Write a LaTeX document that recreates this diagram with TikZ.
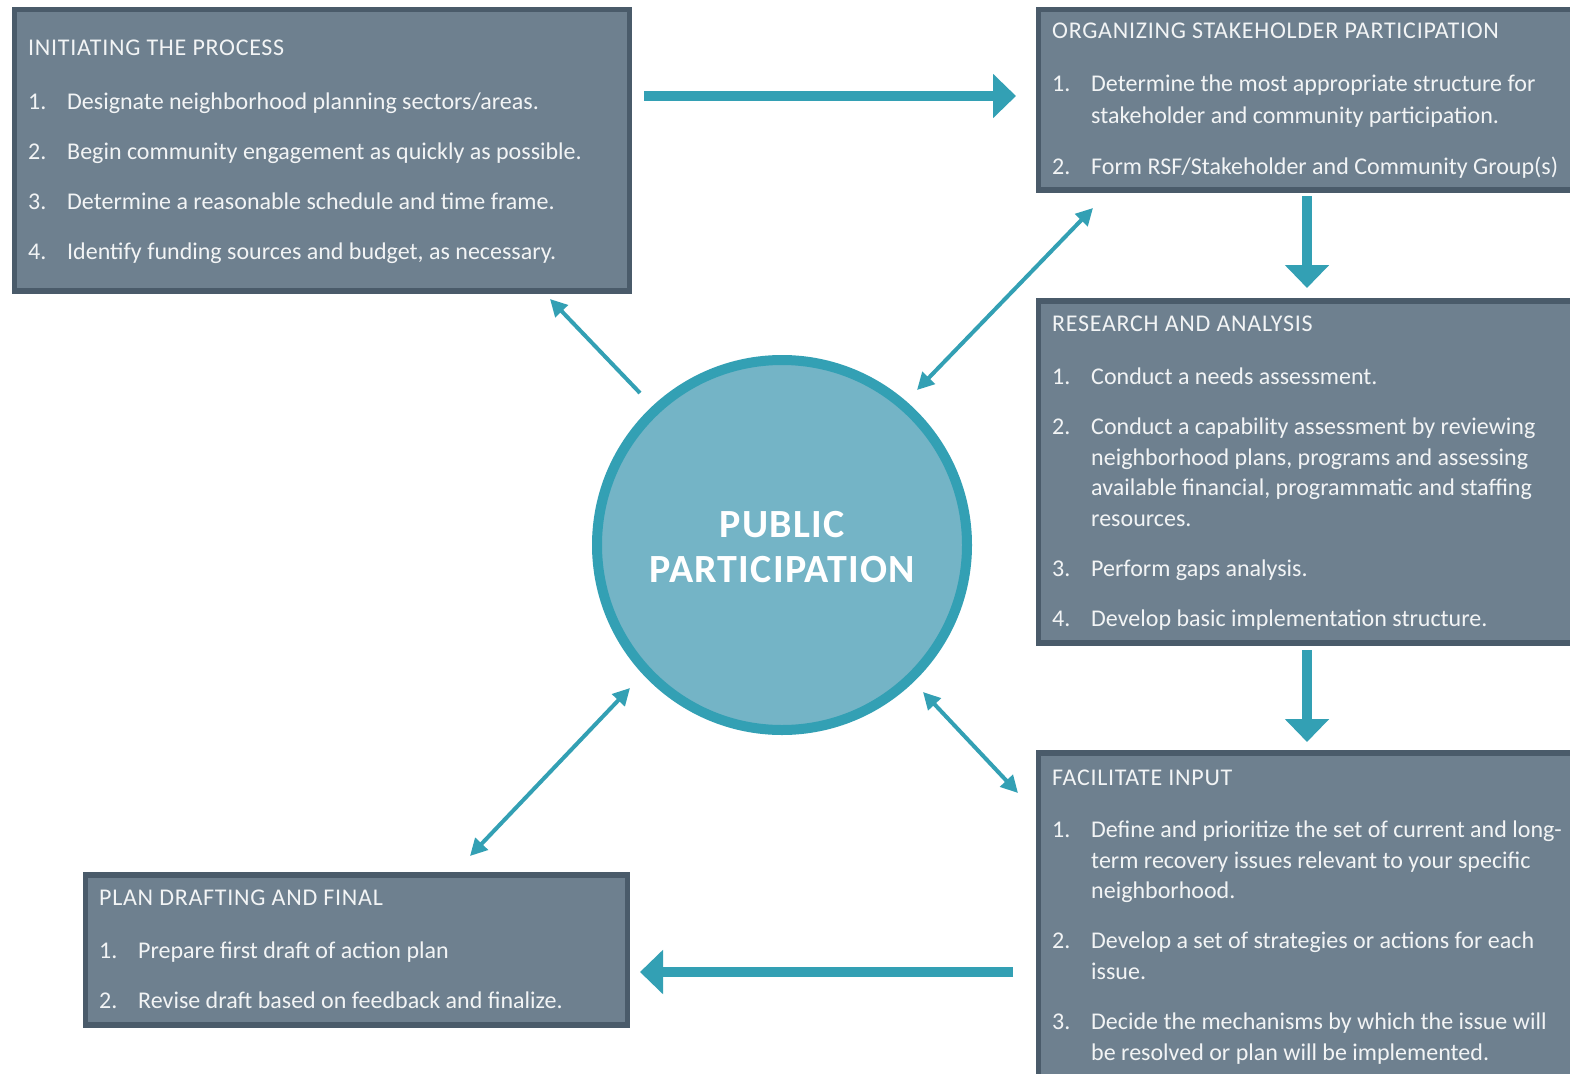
\documentclass[tikz,border=0pt]{standalone}
\usepackage{fontspec}
\setmainfont{Carlito}
\usetikzlibrary{arrows.meta}
\definecolor{boxfill}{HTML}{6E808F}
\definecolor{boxline}{HTML}{4A5B6A}
\definecolor{tealc}{HTML}{33A0B4}
\definecolor{circfill}{HTML}{74B4C6}
\definecolor{txtc}{HTML}{F2F4F5}
\newcommand\tline[4]{\node[itm] (#1) at (#2,#3) {#4};}
\newcommand\ttline[4]{\node[ttl] (#1) at (#2,#3) {#4};}
\begin{document}
\begin{tikzpicture}[x=1pt,y=-1pt,
  panel/.style={draw=boxline, fill=boxfill, line width=5.5pt, rectangle, anchor=north west, inner sep=0pt},
  itm/.style={anchor=base west, text=txtc, inner sep=0pt, font=\fontsize{24}{28}\selectfont},
  ttl/.style={anchor=base west, text=txtc, inner sep=0pt, font=\fontsize{24}{28}\selectfont\addfontfeatures{LetterSpace=3}},
  ctr/.style={anchor=base, text=white, inner sep=0pt, font=\fontsize{40}{46}\selectfont\bfseries\addfontfeatures{LetterSpace=3}},
  thick/.style={draw=tealc, line width=10pt, -{Triangle[length=23pt,width=43pt]}},
  thin/.style={draw=tealc, line width=4pt, -{Triangle[length=17pt,width=17pt]}},
  thinboth/.style={draw=tealc, line width=4pt, {Triangle[length=17pt,width=17pt]}-{Triangle[length=17pt,width=17pt]}}
]
\useasboundingbox (0,0) rectangle (1570,1073);
\clip (0,0) rectangle (1570,1073);
\fill[white] (0,0) rectangle (1570,1073);

% panels
\node[panel, minimum width=615pt, minimum height=281pt] (p1) at (11.5,7) {};
\node[panel, minimum width=600pt, minimum height=180pt] (p2) at (1035.5,7) {};
\node[panel, minimum width=600pt, minimum height=342pt] (p3) at (1035.5,298) {};
\node[panel, minimum width=600pt, minimum height=400pt] (p4) at (1035.5,750) {};
\node[panel, minimum width=542pt, minimum height=150pt] (p5) at (82.5,872) {};

% circle
\node[circle, draw=tealc, fill=circfill, line width=10pt, minimum size=370pt, inner sep=0pt] (c) at (782,545) {};
\node[ctr] (c1) at (782,537) {PUBLIC};
\node[ctr] (c2) at (782,582) {PARTICIPATION};

% box 1
\ttline{t1}{28}{56}{INITIATING THE PROCESS}
\tline{n11}{28}{109}{1.}\tline{i11}{67}{109}{Designate neighborhood planning sectors/areas.}
\tline{n12}{28}{159}{2.}\tline{i12}{67}{159}{Begin community engagement as quickly as possible.}
\tline{n13}{28}{209}{3.}\tline{i13}{67}{209}{Determine a reasonable schedule and time frame.}
\tline{n14}{28}{259}{4.}\tline{i14}{67}{259}{Identify funding sources and budget, as necessary.}

% box 2
\ttline{t2}{1052}{39}{ORGANIZING STAKEHOLDER PARTICIPATION}
\tline{n21}{1052}{92}{1.}\tline{i21}{1091}{92}{Determine the most appropriate structure for}
\tline{i21b}{1091}{123}{stakeholder and community participation.}
\tline{n22}{1052}{174}{2.}\tline{i22}{1091}{174}{Form RSF/Stakeholder and Community Group(s)}

% box 3
\ttline{t3}{1052}{331}{RESEARCH AND ANALYSIS}
\tline{n31}{1052}{384}{1.}\tline{i31}{1091}{384}{Conduct a needs assessment.}
\tline{n32}{1052}{434}{2.}\tline{i32}{1091}{434}{Conduct a capability assessment by reviewing}
\tline{i32b}{1091}{465}{neighborhood plans, programs and assessing}
\tline{i32c}{1091}{495}{available financial, programmatic and staffing}
\tline{i32d}{1091}{526}{resources.}
\tline{n33}{1052}{576}{3.}\tline{i33}{1091}{576}{Perform gaps analysis.}
\tline{n34}{1052}{626}{4.}\tline{i34}{1091}{626}{Develop basic implementation structure.}

% box 4
\ttline{t4}{1052}{785}{FACILITATE INPUT}
\tline{n41}{1052}{837}{1.}\tline{i41}{1091}{837}{Define and prioritize the set of current and long-}
\tline{i41b}{1091}{868}{term recovery issues relevant to your specific}
\tline{i41c}{1091}{898}{neighborhood.}
\tline{n42}{1052}{948}{2.}\tline{i42}{1091}{948}{Develop a set of strategies or actions for each}
\tline{i42b}{1091}{979}{issue.}
\tline{n43}{1052}{1029}{3.}\tline{i43}{1091}{1029}{Decide the mechanisms by which the issue will}
\tline{i43b}{1091}{1060}{be resolved or plan will be implemented.}

% box 5
\ttline{t5}{99}{905}{PLAN DRAFTING AND FINAL}
\tline{n51}{99}{958}{1.}\tline{i51}{138}{958}{Prepare first draft of action plan}
\tline{n52}{99}{1008}{2.}\tline{i52}{138}{1008}{Revise draft based on feedback and finalize.}

% connector end points
\coordinate (a1s) at (644,96);  \coordinate (a1e) at (1016,96);
\coordinate (a2s) at (1307,196); \coordinate (a2e) at (1307,288);
\coordinate (a3s) at (1307,650); \coordinate (a3e) at (1307,742);
\coordinate (a4s) at (1013,972); \coordinate (a4e) at (640,972);
\coordinate (bAs) at (640,393); \coordinate (bAe) at (550,299);
\coordinate (bBs) at (917,390); \coordinate (bBe) at (1093,208);
\coordinate (bCs) at (470,856); \coordinate (bCe) at (630,688);
\coordinate (bDs) at (923,692); \coordinate (bDe) at (1018,793);

\draw[thick] (a1s) -- (a1e);
\draw[thick] (a2s) -- (a2e);
\draw[thick] (a3s) -- (a3e);
\draw[thick] (a4s) -- (a4e);
\draw[thin] (bAs) -- (bAe);
\draw[thinboth] (bBs) -- (bBe);
\draw[thinboth] (bCs) -- (bCe);
\draw[thinboth] (bDs) -- (bDe);
\end{tikzpicture}
\end{document}
